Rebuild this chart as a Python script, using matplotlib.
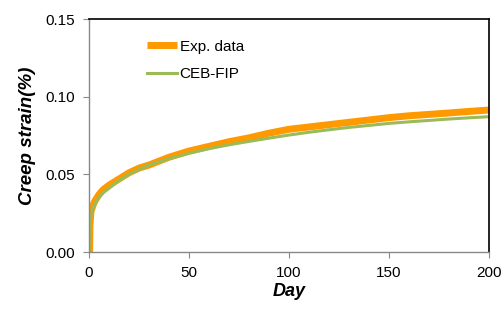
import matplotlib.pyplot as plt

plt.rcParams['font.family'] = ['Liberation Sans', 'DejaVu Sans']

# Data
exp_day = [0.3, 0.5, 1, 2, 3, 5, 7, 10, 15, 20, 25, 30, 40, 50, 60, 70, 80,
           90, 100, 110, 120, 130, 140, 150, 160, 170, 180, 190, 200]
exp_strain = [0.0, 0.018, 0.026, 0.030, 0.033, 0.037, 0.040, 0.043, 0.047,
              0.051, 0.054, 0.056, 0.061, 0.065, 0.068, 0.071, 0.0735,
              0.0765, 0.0790, 0.0805, 0.0820, 0.0835, 0.0850, 0.0865,
              0.0877, 0.0886, 0.0895, 0.0905, 0.0914]

ceb_day = [0, 0.3, 1, 2, 3, 5, 7, 10, 15, 20, 25, 30, 40, 50, 60, 70, 80,
           90, 100, 110, 120, 130, 140, 150, 160, 170, 180, 190, 200]
ceb_strain = [0.0, 0.017, 0.024, 0.028, 0.031, 0.035, 0.038, 0.041, 0.046,
              0.050, 0.053, 0.056, 0.060, 0.0635, 0.0665, 0.069, 0.0712,
              0.0733, 0.0753, 0.0771, 0.0787, 0.0802, 0.0815, 0.0828,
              0.0838, 0.0847, 0.0856, 0.0864, 0.0871]

xticks = [0, 50, 100, 150, 200]
yticks = [0.00, 0.05, 0.10, 0.15]

fig = plt.figure(figsize=(5.04, 3.12), dpi=100)
ax = fig.add_axes([0.1766, 0.1923, 0.7937, 0.7468])

ax.plot(exp_day, exp_strain, color='#ff9900', linewidth=5,
        solid_capstyle='butt', label='Exp. data')
ax.plot(ceb_day, ceb_strain, color='#9bbb59', linewidth=2.2,
        label='CEB-FIP')

ax.set_xlim(0, 200)
ax.set_ylim(0, 0.15)
ax.set_xticks(xticks)
ax.set_yticks(yticks)
ax.set_yticklabels([f'{v:.2f}' for v in yticks])
ax.tick_params(labelsize=11, length=4, width=0.8, color='#888888', pad=6)

for s in ['left', 'bottom']:
    ax.spines[s].set_color('#888888')
    ax.spines[s].set_linewidth(1.0)
for s in ['top', 'right']:
    ax.spines[s].set_color('black')
    ax.spines[s].set_linewidth(1.2)

ax.set_xlabel('Day', fontsize=13, fontweight='bold', style='italic',
              labelpad=2)
ax.set_ylabel('Creep strain(%)', fontsize=13.5, fontweight='bold',
              style='italic', labelpad=7)

ax.legend(loc='upper left', bbox_to_anchor=(0.11, 0.97), frameon=False,
          fontsize=11, handlelength=2.0, handletextpad=0.15,
          labelspacing=0.9)

plt.savefig('out.png', dpi=100)
